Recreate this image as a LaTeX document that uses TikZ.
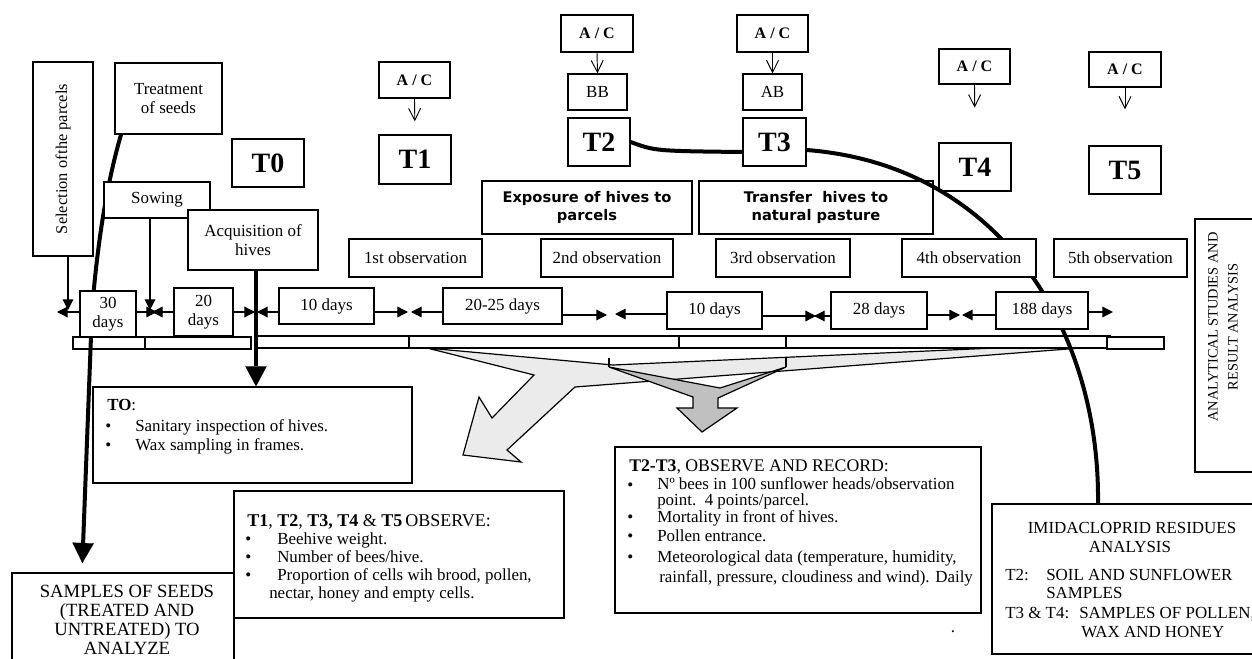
\documentclass[tikz,border=0pt]{standalone}
\usepackage{fontspec}
\setmainfont{Liberation Serif}
\newfontfamily\vsans{DejaVu Sans}
\usetikzlibrary{arrows.meta}
\pgfdeclarelayer{bg}
\pgfsetlayers{bg,main}
\definecolor{lg}{RGB}{235,235,235}
\definecolor{dg}{RGB}{192,192,192}
\tikzset{
 box/.style={draw, line width=1pt, fill=white, inner sep=0pt, align=center, font=\fontsize{12.7}{13.8}\selectfont},
 wh/.style 2 args={minimum width=#1*0.75pt, minimum height=#2*0.75pt},
 big/.style={font=\fontsize{21}{23}\selectfont\bfseries},
 ac/.style={font=\fontsize{12}{13}\selectfont\bfseries},
 sansb/.style={font=\vsans\bfseries\fontsize{11}{13.5}\selectfont},
 txt/.style={anchor=base west, inner sep=0pt, font=\fontsize{12.7}{14}\selectfont},
 ctxt/.style={anchor=base, inner sep=0pt, font=\fontsize{12.7}{14}\selectfont},
 tl/.style={line width=0.9pt, -{Triangle[length=8pt,width=8pt]}},
 vbarb/.style={line width=0.7pt, -{Straight Barb[length=9pt,width=9pt]}},
 heavy/.style={line width=3pt},
 heavyarrow/.style={line width=3pt, -{Triangle[length=15pt,width=16pt,line width=0.1pt]}},
 thin/.style={line width=0.9pt},
}
\begin{document}
\begin{tikzpicture}[x=0.75pt,y=-0.75pt]
\useasboundingbox (0,0) rectangle (1252,659);

% ---------- top boxes ----------
\node[box, rotate=90, wh={194}{60}, font=\fontsize{12.3}{13}\selectfont] (sel) at (63,159) {Selection of\hspace{0.5pt}the parcels};
\node[box, wh={107}{71}] (treat) at (168.5,98.5) {Treatment\\of seeds};
\node[box, wh={72}{48}, big] (T0) at (268,163) {T0};
\node[box, wh={106}{36}] (sow) at (157,200) {Sowing};
\node[box, wh={130}{60}] (acq) at (253,240) {Acquisition of\\hives};

\node[box, wh={71}{36}, ac] (ac1) at (414.5,80) {A / C};
\node[box, wh={72}{49}, big] (T1) at (415,159.5) {T1};
\node[box, wh={72}{37}, ac] (ac2) at (597,33.5) {A / C};
\node[box, wh={59}{36}] (BB) at (597.5,92) {BB};
\node[box, wh={62}{48}, big] (T2) at (599,142) {T2};
\node[box, wh={71}{37}, ac] (ac3) at (772.5,33.5) {A / C};
\node[box, wh={59}{36}] (AB) at (772.5,92) {AB};
\node[box, wh={63}{48}, big] (T3) at (774.5,142) {T3};
\node[box, wh={71}{35}, ac] (ac4) at (974.5,66.5) {A / C};
\node[box, wh={72}{48}, big, fill=none] (T4) at (975,167) {T4};
\node[box, wh={72}{35}, ac] (ac5) at (1125,69.5) {A / C};
\node[box, wh={72}{48}, big] (T5) at (1125,170) {T5};

\draw[vbarb, shorten >=9.75pt] (ac1.south) -- (T1.north);
\draw[vbarb] (ac2.south) -- (BB.north);
\draw[vbarb] (ac3.south) -- (AB.north);
\draw[vbarb, shorten >=26pt] (ac4.south) -- (T4.north);
\draw[vbarb, shorten >=27pt] (ac5.south) -- (T5.north);

\node[box, wh={210}{53}, sansb] (expo) at (587,207.5) {Exposure of hives to\\parcels};
\node[box, wh={234}{53}, sansb, fill=none] (transf) at (816,207.5) {Transfer\ \ hives to\\natural pasture};

% ---------- observations ----------
\node[box, wh={133}{38}] (obs1) at (415.5,258) {1st observation};
\node[box, wh={132}{38}] (obs2) at (607,258) {2nd observation};
\node[box, wh={134}{38}] (obs3) at (783,258) {3rd observation};
\node[box, wh={134}{38}] (obs4) at (969,258) {4th observation};
\node[box, wh={133}{38}] (obs5) at (1120.5,258) {5th observation};

% ---------- day boxes ----------
\node[box, wh={56}{46}] (d30) at (108,314) {30\\days};
\node[box, wh={59}{48}] (d20) at (203.5,312) {20\\days};
\node[box, wh={95}{36}] (d10a) at (326.5,306) {10 days};
\node[box, wh={119}{36}] (d25) at (502.5,306) {20-25 days};
\node[box, wh={95}{37}] (d10b) at (714.5,310.5) {10 days};
\node[box, wh={96}{37}] (d28) at (879,310.5) {28 days};
\node[box, wh={92}{37}] (d188) at (1042,310.5) {188 days};

\coordinate (t30l) at (57,312);  \coordinate (t30r) at (157,312);
\coordinate (t20l) at (152,312); \coordinate (t20r) at (255,312);
\coordinate (t10l) at (257,312); \coordinate (t10r) at (408,312);
\coordinate (t25l) at (411,312); \coordinate (t25r) at (607,315);
\coordinate (tbl) at (615,314);  \coordinate (tbr) at (816,316);
\coordinate (t28l) at (814,316); \coordinate (t28r) at (960,315);
\coordinate (t88l) at (962,315); \coordinate (t88r) at (1113,312);
\draw[tl] (d30.west |- t30l) -- (t30l);
\draw[tl] (d30.east |- t30r) -- (t30r);
\draw[tl] (d20.west |- t20l) -- (t20l);
\draw[tl] (d20.east |- t20r) -- (t20r);
\draw[tl] (d10a.west |- t10l) -- (t10l);
\draw[tl] (d10a.east |- t10r) -- (t10r);
\draw[tl] (d25.west |- t25l) -- (t25l);
\draw[tl] (d25.east |- t25r) -- (t25r);
\draw[tl] (d10b.west |- tbl) -- (tbl);
\draw[tl] (d10b.east |- tbr) -- (tbr);
\draw[tl] (d28.west |- t28l) -- (t28l);
\draw[tl] (d28.east |- t28r) -- (t28r);
\draw[tl] (d188.west |- t88l) -- (t88l);
\draw[tl] (d188.east |- t88r) -- (t88r);

\coordinate (selTip) at (68,310);
\coordinate (sowTip) at (150,310);
\draw[tl] (sel.west -| selTip) -- (selTip);
\draw[tl] (sow.south -| sowTip) -- (sowTip);

% ---------- analytical box ----------
\node[box, wh={67}{253}] (anal) at (1228.5,345.5) {};
\node[rotate=90, align=center, inner sep=0pt, font=\fontsize{10.8}{15}\selectfont] (analt) at (1223,327) {ANALYTICAL STUDIES AND\\RESULT ANALYSIS};

% ---------- lower boxes ----------
\node[box, wh={319}{96}] (TO) at (252.5,435) {};
\node[txt] (to0) at (107,410) {\textbf{TO}:};
\node[txt] (to1b) at (105,431) {•};
\node[txt] (to1) at (135,431) {Sanitary inspection of hives.};
\node[txt] (to2b) at (105,450) {•};
\node[txt] (to2) at (135,450) {Wax sampling in frames.};

\coordinate (acqx) at (256,0);
\draw[heavyarrow] (acq.south -| acqx) -- (TO.north -| acqx);

\node[box, wh={222}{92}] (samples) at (123,619) {};
\node[ctxt, font=\fontsize{14}{15}\selectfont] (s1) at (127,597) {SAMPLES OF SEEDS};
\node[ctxt, font=\fontsize{14}{15}\selectfont] (s2) at (127,616) {(TREATED AND};
\node[ctxt, font=\fontsize{14}{15}\selectfont] (s3) at (127,635) {UNTREATED) TO};
\node[ctxt, font=\fontsize{14}{15}\selectfont] (s4) at (127,654) {ANALYZE};

\node[box, wh={330}{127}] (obsT) at (399,554.5) {};
\node[txt, font=\fontsize{13.5}{14}\selectfont] (o0) at (247,526) {\textbf{T1}, \textbf{T2}, \textbf{T3, T4} \& \textbf{T5}\,OBSERVE:};
\node[txt] (o1b) at (245,544) {•};
\node[txt] (o1) at (277,544) {Beehive weight.};
\node[txt] (o2b) at (245,562) {•};
\node[txt] (o2) at (277,562) {Number of bees/hive.};
\node[txt] (o3b) at (245,580) {•};
\node[txt] (o3) at (277,580) {Proportion of cells wih brood, pollen,};
\node[txt] (o4) at (269,598) {nectar, honey and empty cells.};

\node[box, wh={366}{166}] (T23) at (798,530) {};
\node[txt, font=\fontsize{13.3}{14}\selectfont] (r0) at (629,471) {\textbf{T2-T3}, OBSERVE AND RECORD:};
\node[txt] (r1b) at (627,490) {•};
\node[txt] (r1) at (657,489) {Nº bees in 100 sunflower heads/observation};
\node[txt] (r1c) at (657,505) {point.\ \ 4 points/parcel.};
\node[txt] (r2b) at (627,522) {•};
\node[txt] (r2) at (657,522) {Mortality in front of hives.};
\node[txt] (r3b) at (627,541) {•};
\node[txt] (r3) at (657,541) {Pollen entrance.};
\node[txt] (r4b) at (627,562) {•};
\node[txt] (r4) at (657,562) {Meteorological data (temperature, humidity,};
\node[txt] (r4c) at (659,582) {rainfall, pressure, cloudiness and wind). Daily};
\node[ctxt] (dot) at (953,632) {.};

\node[box, wh={270}{150}] (imid) at (1127,579) {};
\node[ctxt] (i1) at (1132,533) {IMIDACLOPRID RESIDUES};
\node[ctxt] (i2) at (1130,552) {ANALYSIS};
\node[txt] (i3) at (1005,580) {T2:};
\node[txt] (i4) at (1046,580) {SOIL AND SUNFLOWER};
\node[txt] (i5) at (1046,598) {SAMPLES};
\node[txt] (i6) at (1005,618) {T3 \& T4:};
\node[txt] (i7) at (1079,618) {SAMPLES OF POLLEN,};
\node[txt] (i8) at (1081,637) {WAX AND HONEY};

% ---------- background layer ----------
\begin{pgfonlayer}{bg}
 \filldraw[fill=lg, thin] (427,348) -- (613,365) -- (1107,343) -- (1107,346) -- (575,387)
   -- (507,450) -- (521,462) -- (463,455) -- (479,397) -- (492,418) -- (534,375) -- cycle;
 \filldraw[fill=dg, thin] (609,367) -- (720,388) -- (786,367) -- (718,398) -- (718,408)
   -- (737,408) -- (702,432) -- (677,408) -- (693,408) -- (693,397) -- cycle;
 \draw[thin] (609,358) -- (609,367);
 \draw[thin] (786,358) -- (786,367);
 % bar
 \filldraw[fill=white, thin] (73,337) rectangle (145,349);
 \filldraw[fill=white, thin] (145,337) rectangle (251,349);
 \filldraw[fill=white, thin] (256,336) rectangle (409,348);
 \filldraw[fill=white, thin] (409,336) rectangle (679,348);
 \filldraw[fill=white, thin] (679,336) rectangle (786,348);
 \filldraw[fill=white, thin] (786,336) rectangle (1110,348);
 \filldraw[fill=white, thin] (1107,337) rectangle (1164,349);
 % heavy connectors
 \coordinate (seedx) at (121,0);
 \coordinate (seedy) at (82,0);
 \draw[heavyarrow, shorten >=7pt] (treat.south -| seedx) .. controls (105,190) and (97,250) .. (92,310) -- (samples.north -| seedy);
 \draw[heavy] (T2.east) .. controls (655,151) .. (T3.west |- 0,152);
 \draw[heavy] (T3.east |- 0,150) .. controls (1000,165) and (1100,330) .. (imid.north -| 1098,0);
\end{pgfonlayer}
\end{tikzpicture}
\end{document}
